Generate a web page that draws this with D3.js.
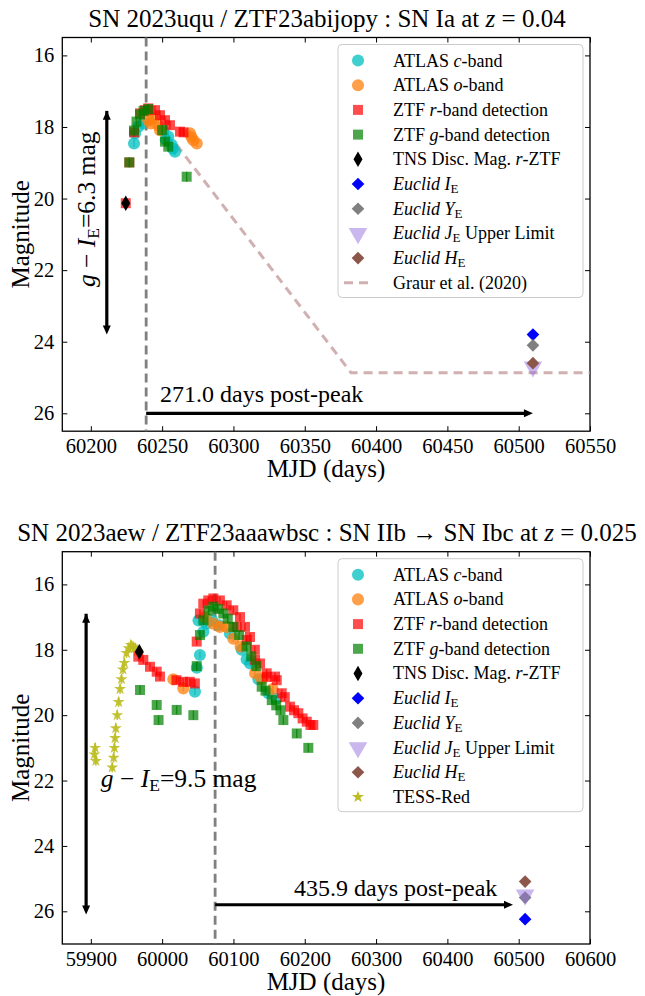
<!DOCTYPE html>
<html>
<head>
<meta charset="utf-8">
<script src="https://cdn.jsdelivr.net/npm/d3@7"></script>
<style>
  body { margin: 0; background: #fff; }
  svg text { font-family: "Liberation Serif", "Times New Roman", serif; fill: #000; }
</style>
</head>
<body>
<svg id="fig" width="645" height="996"></svg>
<script>
//////////
// DATA //
//////////

// top panel : SN 2023uqu
var uquAtlasC = [[60230.3, 18.46], [60231, 18.18], [60233.4, 17.99], [60236.8, 17.9], [60250.8, 18.09],
    [60252.5, 18.35], [60254.3, 18.27], [60256.7, 18.5], [60257.5, 18.6], [60259, 18.69]];
var uquAtlasO = [[60240.3, 17.81], [60242, 17.9], [60243.8, 17.76], [60247.3, 17.95], [60248.5, 18.09],
    [60269.6, 18.18], [60270.5, 18.28], [60271.9, 18.37], [60274.3, 18.46]];
var uquZtfR = [[60224.5, 20.13], [60227, 18.99], [60230.3, 18.15], [60234.5, 17.62], [60238, 17.53],
    [60240.3, 17.48], [60245, 17.53], [60248.5, 17.67], [60252, 17.81], [60255.5, 17.95], [60262.5, 18.13], [60265, 18.15]];
var uquZtfG = [[60227, 18.99], [60230.3, 18.1], [60232, 17.85], [60234.5, 17.65], [60237, 17.55], [60240.3, 17.5],
    [60250, 18.09], [60252, 18.41], [60254.3, 18.55], [60267.2, 19.39]];
var uquTns = [[60224.5, 20.13]];
var uquEuclid = { I: 23.8, Y: 24.1, J: 24.7, H: 24.6, mjd: 60510 };
var uquGraur = [[60260, 18.49], [60382.5, 24.87], [60550, 24.87]];

// bottom panel : SN 2023aew
var aewAtlasC = [[60046, 19.28], [60048.6, 18.55], [60051, 17.1], [60053, 18.16], [60057.7, 17.45], [60062, 17.2],
    [60070, 17.1], [60080, 17.25], [60095, 17.5], [60111.6, 18.0], [60118.5, 18.3], [60123.3, 18.42], [60135, 18.9],
    [60149, 19.33], [60160, 19.5]];
var aewAtlasO = [[60015.7, 18.9], [60029.7, 19.18], [60060, 17.0], [60071.8, 17.2], [60081, 17.3], [60090.5, 17.3],
    [60099.8, 17.66], [60110, 17.9], [60130.3, 18.72], [60140, 18.9], [60155, 19.2]];
var aewZtfR = [[59966.6, 18.21], [59973.6, 18.31], [59983, 18.52], [59992.4, 18.67], [59997, 18.82],
    [60020, 18.93], [60029.5, 18.98], [60038.8, 18.98], [60045.9, 19.03], [60048.5, 17.75], [60053, 16.89],
    [60057.7, 16.59], [60064.7, 16.49], [60071.8, 16.43], [60081, 16.49], [60090.5, 16.64], [60099.8, 16.79],
    [60104.6, 17.3], [60109.2, 17.0], [60116.2, 17.3], [60118.6, 17.7], [60123.2, 17.61], [60130, 18.0],
    [60130.3, 18.31], [60137.3, 18.42], [60146.6, 18.72], [60146.7, 18.83], [60158.3, 18.82], [60160.7, 18.93],
    [60167.7, 19.33], [60172, 19.45], [60179.4, 19.74], [60185, 19.85], [60191, 19.94], [60197, 20.1],
    [60202.8, 20.2], [60208, 20.3], [60212, 20.3]];
var aewZtfG = [[59969, 19.23], [59992.4, 19.69], [59995, 20.15], [60020.4, 19.84], [60043.8, 20.0], [60048.5, 18.5],
    [60053, 17.55], [60058, 17.1], [60065, 16.8], [60071.8, 16.68], [60078, 16.75], [60085.8, 16.89], [60092, 17.05],
    [60099.8, 17.3], [60108, 17.55], [60118.5, 17.9], [60125, 18.2], [60132, 18.5], [60139.6, 19.13], [60145, 19.25],
    [60153.7, 19.54], [60160, 19.7], [60166, 19.85], [60170, 20.15], [60188.8, 20.56], [60205, 21.0]];
var aewTns = [[59968, 18.06]];
var aewTess = [[59905, 21.2], [59906, 21.0], [59907, 21.4], [59930, 21.6], [59932, 21.3], [59933, 21.0],
    [59934, 20.7], [59935, 20.4], [59937, 20.0], [59939, 19.6], [59941, 19.2], [59943, 18.9], [59945, 18.6],
    [59947, 18.4], [59950, 18.1], [59953, 17.95], [59956, 17.85], [59959, 17.9], [59962, 17.95], [59965, 18.05]];
var aewEuclid = { I: 26.24, Y: 25.58, J: 25.5, H: 25.09, mjd: 60509 };

// ticks
var uquXTicks = [60200, 60250, 60300, 60350, 60400, 60450, 60500, 60550];
var aewXTicks = [59900, 60000, 60100, 60200, 60300, 60400, 60500, 60600];
var magTicks = [16, 18, 20, 22, 24, 26];

////////////
// STYLES //
////////////

var svg = d3.select('#fig');

var C_CYAN = '#00bfbf', C_ORANGE = '#ff7f0e', C_RED = 'red', C_GREEN = 'green',
    C_PURPLE = 'mediumpurple', C_BROWN = '#8c564b', C_GRAUR = 'rosybrown', C_TESS = '#bcbd22';

var sym = {
    circle: d3.symbol().type(d3.symbolCircle).size(115),
    square: d3.symbol().type(d3.symbolSquare).size(100),
    thin: d3.symbol().type(d3.symbolDiamond).size(70),
    diamond: d3.symbol().type(d3.symbolSquare).size(80),
    tri: d3.symbol().type(d3.symbolTriangle).size(150),
    star: d3.symbol().type(d3.symbolStar).size(45)
};

////////////////
// DRAW PANEL //
////////////////

function drawPanel(p) {
    var g = svg.append('g');

    var x = d3.scaleLinear().domain(p.xDomain).range([62.3, 590]);
    var y = d3.scaleLinear().domain(p.yDomain).range([p.top, p.bottom]);

    // axes (ticks inward on all sides)
    g.append('g').attr('transform', 'translate(0,' + p.bottom + ')')
        .call(d3.axisBottom(x).tickValues(p.xTicks).tickSizeInner(-5).tickSizeOuter(0).tickPadding(7).tickFormat(d3.format('d')));
    g.append('g').attr('transform', 'translate(0,' + p.top + ')')
        .call(d3.axisTop(x).tickValues(p.xTicks).tickSizeInner(-5).tickSizeOuter(0).tickFormat(''));
    g.append('g').attr('transform', 'translate(62.3,0)')
        .call(d3.axisLeft(y).tickValues(magTicks).tickSizeInner(-5).tickSizeOuter(0).tickPadding(8));
    g.append('g').attr('transform', 'translate(590,0)')
        .call(d3.axisRight(y).tickValues(magTicks).tickSizeInner(-5).tickSizeOuter(0).tickFormat(''));
    g.selectAll('.domain').remove();
    g.selectAll('.tick line').attr('stroke', '#000').attr('stroke-width', 1);
    g.selectAll('.tick text').style('font-size', '20.5px').attr('font-family', 'Liberation Serif');
    g.append('rect').attr('x', 62.3).attr('y', p.top).attr('width', 590 - 62.3).attr('height', p.bottom - p.top)
        .attr('fill', 'none').attr('stroke', '#000').attr('stroke-width', 1.3);

    var clip = g.append('g');

    // Graur line
    if (p.graur) {
        clip.append('path').datum(p.graur)
            .attr('d', d3.line().x(function(d) { return x(d[0]); }).y(function(d) { return y(d[1]); }))
            .attr('fill', 'none').attr('stroke', C_GRAUR).attr('stroke-opacity', 0.7)
            .attr('stroke-width', 3).attr('stroke-dasharray', '9,6');
    }

    // peak line
    clip.append('line').attr('x1', x(p.peak)).attr('x2', x(p.peak)).attr('y1', p.top).attr('y2', p.bottom)
        .attr('stroke', 'gray').attr('stroke-width', 2.8).attr('stroke-dasharray', '9,5');

    function points(data, shape, color, alpha, err) {
        clip.selectAll(null).data(data).enter().append('line')
            .attr('x1', function(d) { return x(d[0]); }).attr('x2', function(d) { return x(d[0]); })
            .attr('y1', function(d) { return y(d[1] - err); }).attr('y2', function(d) { return y(d[1] + err); })
            .attr('stroke', color).attr('stroke-opacity', alpha).attr('stroke-width', 1.5);
        clip.selectAll(null).data(data).enter().append('path')
            .attr('d', shape)
            .attr('transform', function(d) { return 'translate(' + x(d[0]) + ',' + y(d[1]) + ')'; })
            .attr('fill', color).attr('fill-opacity', alpha);
    }

    if (p.tess) points(p.tess, sym.star, C_TESS, 0.9, 0.15);
    points(p.atlasC, sym.circle, C_CYAN, 0.75, 0.1);
    points(p.atlasO, sym.circle, C_ORANGE, 0.75, 0.1);
    points(p.ztfR, sym.square, C_RED, 0.7, 0.12);
    points(p.ztfG, sym.square, C_GREEN, 0.7, 0.14);
    points(p.tns, sym.thin, '#000', 1, 0.12);

    // Euclid points
    var e = p.euclid, ex = x(e.mjd);
    function at(m) { return 'translate(' + ex + ',' + y(m) + ')'; }
    clip.append('path').attr('d', sym.diamond).attr('transform', at(e.I) + ' rotate(45)').attr('fill', 'blue');
    clip.append('path').attr('d', sym.diamond).attr('transform', at(e.Y) + ' rotate(45)').attr('fill', 'gray');
    clip.append('path').attr('d', sym.tri).attr('transform', at(e.J) + ' rotate(180)').attr('fill', C_PURPLE).attr('fill-opacity', 0.5);
    clip.append('path').attr('d', sym.diamond).attr('transform', at(e.H) + ' rotate(45)').attr('fill', C_BROWN);

    // arrows
    function arrow(x1, y1, x2, y2, both) {
        var a = Math.atan2(y2 - y1, x2 - x1);
        function head(hx, hy, ang) {
            var L = 9, W = 4;
            var pts = [[hx, hy],
                [hx - L * Math.cos(ang) + W * Math.sin(ang), hy - L * Math.sin(ang) - W * Math.cos(ang)],
                [hx - L * Math.cos(ang) - W * Math.sin(ang), hy - L * Math.sin(ang) + W * Math.cos(ang)]];
            g.append('path').attr('d', 'M' + pts.join('L') + 'Z').attr('fill', '#000');
        }
        g.append('line').attr('x1', x1).attr('y1', y1).attr('x2', x2 - 6 * Math.cos(a)).attr('y2', y2 - 6 * Math.sin(a))
            .attr('stroke', '#000').attr('stroke-width', 3.2);
        head(x2, y2, a);
        if (both) head(x1, y1, a + Math.PI);
    }
    arrow(x(p.vArrow[0]), y(p.vArrow[1]), x(p.vArrow[0]), y(p.vArrow[2]), true);
    arrow(x(p.peak), y(p.hArrow[1]), x(p.hArrow[0]), y(p.hArrow[1]), false);

    // annotations
    var colour = g.append('text').style('font-size', '25.5px');
    if (p.colourRot) {
        colour.attr('transform', 'translate(' + x(p.colourPos[0]) + ',' + y(p.colourPos[1]) + ') rotate(-90)')
            .attr('text-anchor', 'middle');
    } else {
        colour.attr('x', x(p.colourPos[0])).attr('y', y(p.colourPos[1]));
    }
    colour.append('tspan').attr('font-style', 'italic').text('g');
    colour.append('tspan').text(' \u2212 ');
    colour.append('tspan').attr('font-style', 'italic').text('I');
    colour.append('tspan').attr('dy', 4).style('font-size', '17.5px').text('E');
    colour.append('tspan').attr('dy', -4).text('=' + p.colourVal + ' mag');

    g.append('text').attr('x', x(p.postPos[0])).attr('y', y(p.postPos[1]))
        .attr('text-anchor', p.postAnchor).style('font-size', '24px').text(p.postText);

    // titles and labels
    var t = svg.append('text').attr('x', 327).attr('y', p.top - 11).attr('text-anchor', 'middle').style('font-size', '25px');
    t.append('tspan').text(p.title);
    t.append('tspan').attr('font-style', 'italic').text('z');
    t.append('tspan').text(' = ' + p.z);

    svg.append('text').attr('x', 326).attr('y', p.bottom + 46).attr('text-anchor', 'middle')
        .style('font-size', '25px').text('MJD (days)');
    svg.append('text').attr('transform', 'translate(29,' + ((p.top + p.bottom) / 2) + ') rotate(-90)')
        .attr('text-anchor', 'middle').style('font-size', '25px').text('Magnitude');

    // legend
    var lg = svg.append('g').attr('transform', 'translate(338,' + (p.top + 7) + ')');
    var rows = [
        { k: 'c', label: [['ATLAS '], ['c', 1], ['-band']] },
        { k: 'o', label: [['ATLAS '], ['o', 1], ['-band']] },
        { k: 'r', label: [['ZTF '], ['r', 1], ['-band detection']] },
        { k: 'g', label: [['ZTF '], ['g', 1], ['-band detection']] },
        { k: 'tns', label: [['TNS Disc. Mag. '], ['r', 1], ['-ZTF']] },
        { k: 'I', label: [['Euclid', 1], [' '], ['I', 1], ['E', 0, 1]] },
        { k: 'Y', label: [['Euclid', 1], [' '], ['Y', 1], ['E', 0, 1]] },
        { k: 'J', label: [['Euclid', 1], [' '], ['J', 1], ['E', 0, 1], [' Upper Limit', 0, 2]] },
        { k: 'H', label: [['Euclid', 1], [' '], ['H', 1], ['E', 0, 1]] }
    ];
    if (p.graur) rows.push({ k: 'graur', label: [['Graur et al. (2020)']] });
    if (p.tess) rows.push({ k: 'tess', label: [['TESS-Red']] });

    var rowH = 24.7;
    lg.append('rect').attr('x', 0).attr('y', 0).attr('width', 245).attr('height', rows.length * rowH + 6)
        .attr('rx', 4).attr('fill', '#fff').attr('fill-opacity', 0.8).attr('stroke', '#ccc').attr('stroke-width', 1);

    rows.forEach(function(r, i) {
        var cy = 16 + i * rowH, mx = 20;
        var m = lg.append('g').attr('transform', 'translate(' + mx + ',' + cy + ')');
        if (r.k === 'c') m.append('path').attr('d', sym.circle).attr('fill', C_CYAN).attr('fill-opacity', 0.75);
        if (r.k === 'o') m.append('path').attr('d', sym.circle).attr('fill', C_ORANGE).attr('fill-opacity', 0.75);
        if (r.k === 'r') m.append('path').attr('d', sym.square).attr('fill', C_RED).attr('fill-opacity', 0.7);
        if (r.k === 'g') m.append('path').attr('d', sym.square).attr('fill', C_GREEN).attr('fill-opacity', 0.7);
        if (r.k === 'tns') m.append('path').attr('d', sym.thin).attr('fill', '#000');
        if (r.k === 'I') m.append('path').attr('d', sym.diamond).attr('transform', 'rotate(45)').attr('fill', 'blue');
        if (r.k === 'Y') m.append('path').attr('d', sym.diamond).attr('transform', 'rotate(45)').attr('fill', 'gray');
        if (r.k === 'J') m.append('path').attr('d', sym.tri).attr('transform', 'rotate(180)').attr('fill', C_PURPLE).attr('fill-opacity', 0.5);
        if (r.k === 'H') m.append('path').attr('d', sym.diamond).attr('transform', 'rotate(45)').attr('fill', C_BROWN);
        if (r.k === 'graur') m.append('line').attr('x1', -14).attr('x2', 14).attr('stroke', C_GRAUR).attr('stroke-opacity', 0.7)
            .attr('stroke-width', 3).attr('stroke-dasharray', '9,6');
        if (r.k === 'tess') m.append('path').attr('d', sym.star).attr('fill', C_TESS);

        var tx = lg.append('text').attr('x', 55).attr('y', cy + 6).style('font-size', '18px');
        r.label.forEach(function(s) {
            var ts = tx.append('tspan').text(s[0]);
            if (s[1]) ts.attr('font-style', 'italic');
            if (s[2] === 1) ts.attr('dy', 3).style('font-size', '13px');
            if (s[2] === 2) ts.attr('dy', -3);
        });
    });
}

drawPanel({
    xDomain: [60180, 60550], yDomain: [15.5, 26.5], top: 37.5, bottom: 431.2, xTicks: uquXTicks,
    atlasC: uquAtlasC, atlasO: uquAtlasO, ztfR: uquZtfR, ztfG: uquZtfG, tns: uquTns, euclid: uquEuclid,
    graur: uquGraur, peak: 60238.8,
    vArrow: [60211.2, 17.55, 23.8], hArrow: [60510, 26.0],
    colourRot: true, colourPos: [60203, 20.3], colourVal: '6.3',
    postPos: [60248.5, 25.68], postAnchor: 'start', postText: '271.0 days post-peak',
    title: 'SN 2023uqu / ZTF23abijopy : SN Ia at ', z: '0.04'
});

drawPanel({
    xDomain: [59860, 60600], yDomain: [15, 27], top: 551.7, bottom: 944, xTicks: aewXTicks,
    atlasC: aewAtlasC, atlasO: aewAtlasO, ztfR: aewZtfR, ztfG: aewZtfG, tns: aewTns, euclid: aewEuclid,
    tess: aewTess, peak: 60074.3,
    vArrow: [59893.4, 16.9, 26.1], hArrow: [60492, 25.8],
    colourRot: false, colourPos: [59914, 22.2], colourVal: '9.5',
    postPos: [60470, 25.52], postAnchor: 'end', postText: '435.9 days post-peak',
    title: 'SN 2023aew / ZTF23aaawbsc : SN IIb \u2192 SN Ibc at ', z: '0.025'
});
</script>
</body>
</html>
